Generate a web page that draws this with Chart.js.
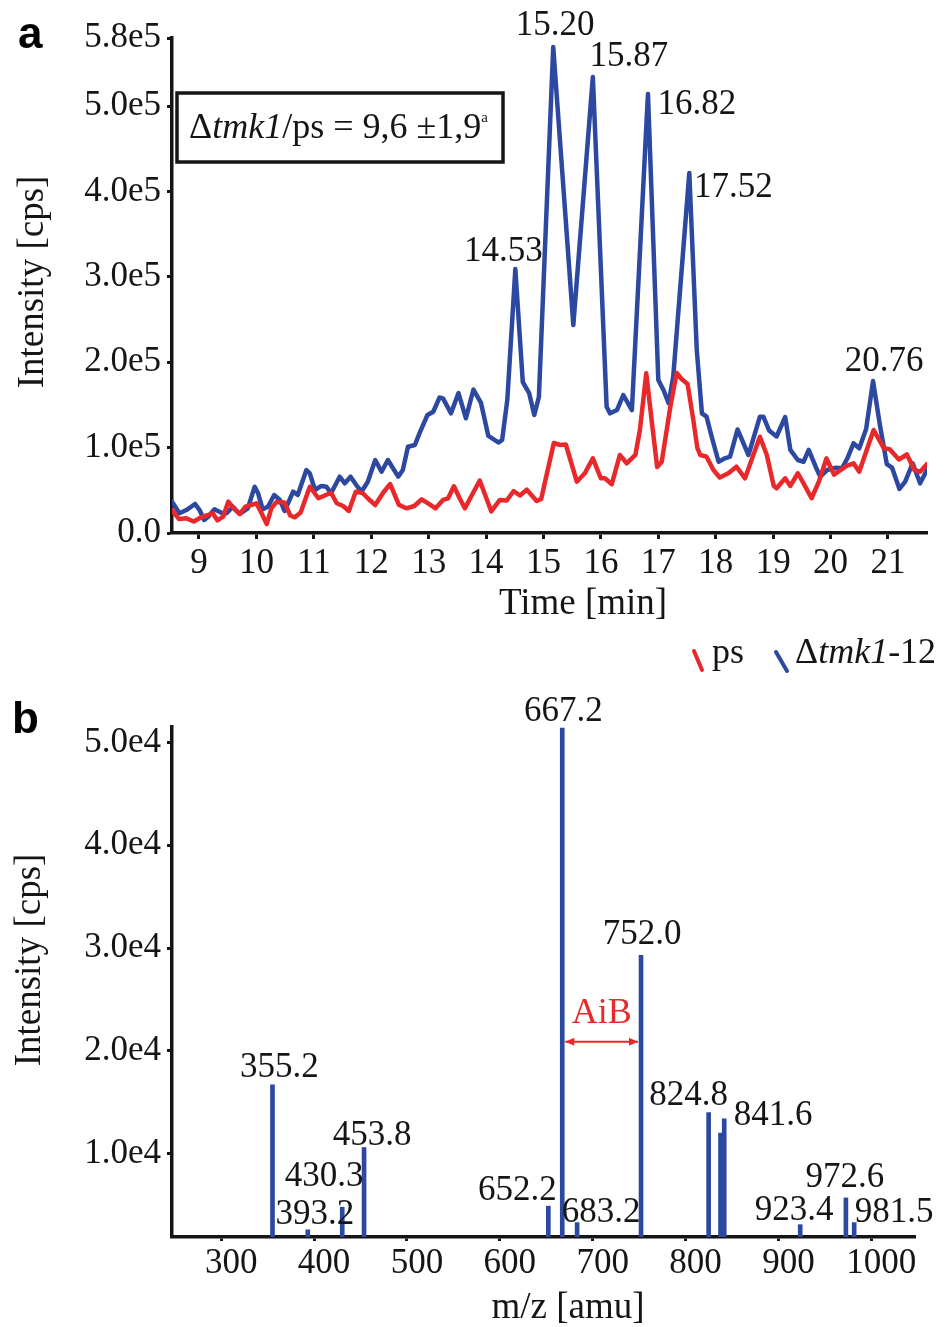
<!DOCTYPE html>
<html>
<head>
<meta charset="utf-8">
<script src="https://cdn.jsdelivr.net/npm/chart.js@4.4.1/dist/chart.umd.min.js"></script>
<style>
  html, body { margin: 0; padding: 0; background: #fff; }
  #page { position: relative; width: 952px; height: 1327px; overflow: hidden; }
  .panel { position: absolute; left: 0; width: 952px; }
  #wrapA { top: 0; height: 690px; }
  #wrapB { top: 690px; height: 637px; }
</style>
</head>
<body>
<div id="page">
  <div class="panel" id="wrapA"><canvas id="chartA" width="952" height="690"></canvas></div>
  <div class="panel" id="wrapB"><canvas id="chartB" width="952" height="637"></canvas></div>
</div>
<script>
// ---- panel a: chromatogram ----
const psTime = [8.53, 8.65, 8.78, 8.91, 9.03, 9.16, 9.24, 9.32, 9.42, 9.51, 9.62, 9.71, 9.81, 9.91, 10.00, 10.09, 10.18, 10.26, 10.35, 10.49, 10.59, 10.67, 10.77, 10.93, 11.08, 11.21, 11.30, 11.40, 11.51, 11.61, 11.73, 11.85, 11.94, 12.07, 12.21, 12.33, 12.48, 12.61, 12.75, 12.88, 12.99, 13.12, 13.25, 13.34, 13.44, 13.54, 13.63, 13.89, 14.09, 14.24, 14.36, 14.48, 14.59, 14.71, 14.88, 14.96, 15.18, 15.29, 15.39, 15.58, 15.72, 15.86, 16.00, 16.07, 16.19, 16.33, 16.45, 16.60, 16.68, 16.79, 16.89, 16.98, 17.06, 17.21, 17.32, 17.41, 17.51, 17.61, 17.68, 17.73, 17.84, 17.96, 18.07, 18.22, 18.36, 18.51, 18.77, 18.89, 19.01, 19.06, 19.21, 19.30, 19.43, 19.53, 19.67, 19.80, 19.93, 20.06, 20.28, 20.40, 20.50, 20.75, 20.93, 21.03, 21.19, 21.33, 21.46, 21.56, 21.68];
const psIntensity = [26900, 16400, 17200, 13500, 18200, 21100, 23100, 14900, 19100, 36700, 27800, 22300, 30800, 32800, 34800, 23100, 10500, 28900, 36300, 35700, 20500, 18400, 24000, 54200, 40700, 44500, 47200, 34800, 31600, 25800, 48400, 46900, 40700, 32800, 47500, 57400, 33200, 28900, 31600, 39500, 34800, 28900, 38700, 40700, 54700, 40700, 28900, 61500, 25400, 38700, 38100, 49200, 43900, 50700, 37500, 39800, 105500, 103100, 103700, 60100, 70000, 87500, 64100, 64100, 57200, 91400, 81700, 91400, 120700, 187100, 128500, 77300, 83500, 148000, 187500, 180100, 174600, 132400, 99600, 91400, 89400, 73800, 65000, 70000, 77700, 64100, 112800, 91400, 55300, 52400, 64100, 55100, 70000, 58200, 40700, 60900, 87500, 68400, 78700, 81700, 71800, 120700, 99200, 98100, 86100, 92000, 73800, 71800, 80800];

const tmkTime = [8.53, 8.66, 8.78, 8.93, 9.01, 9.09, 9.16, 9.27, 9.39, 9.48, 9.59, 9.71, 9.85, 9.97, 10.03, 10.11, 10.20, 10.31, 10.41, 10.49, 10.64, 10.72, 10.87, 10.93, 11.02, 11.13, 11.22, 11.30, 11.45, 11.54, 11.64, 11.74, 11.83, 11.94, 12.07, 12.18, 12.29, 12.47, 12.55, 12.64, 12.76, 12.84, 12.98, 13.08, 13.19, 13.25, 13.39, 13.52, 13.65, 13.78, 13.91, 14.04, 14.22, 14.28, 14.37, 14.51, 14.64, 14.75, 14.84, 14.92, 15.17, 15.52, 15.86, 16.10, 16.16, 16.28, 16.39, 16.54, 16.82, 17.00, 17.09, 17.18, 17.26, 17.54, 17.67, 17.76, 17.84, 17.93, 18.05, 18.16, 18.25, 18.38, 18.57, 18.77, 18.83, 18.93, 19.06, 19.21, 19.30, 19.43, 19.53, 19.62, 19.75, 19.82, 19.94, 20.08, 20.20, 20.30, 20.40, 20.50, 20.62, 20.74, 20.86, 20.98, 21.07, 21.20, 21.30, 21.43, 21.56, 21.69];
const tmkIntensity = [36700, 23100, 26900, 34000, 26900, 15200, 19100, 27800, 23800, 23100, 30800, 22300, 28900, 54200, 46500, 27800, 30800, 44500, 38700, 25800, 48400, 44500, 73800, 69900, 50400, 55100, 54200, 46500, 66000, 58200, 66000, 56200, 48400, 60100, 85500, 71800, 85500, 66000, 73800, 101100, 103100, 116800, 138300, 142100, 158800, 157800, 140200, 164000, 134400, 168100, 152900, 113700, 106000, 109000, 155800, 309300, 176900, 164000, 138300, 159300, 569400, 243700, 534300, 148000, 140200, 144100, 161700, 144100, 514400, 179300, 167600, 152000, 183100, 421800, 214400, 140200, 136300, 112800, 83500, 87500, 89400, 121300, 91400, 136300, 136300, 120100, 113100, 135900, 97300, 85500, 83500, 97300, 76200, 66000, 73800, 76400, 75800, 88500, 105100, 99200, 121900, 178100, 126500, 80800, 76700, 51600, 60100, 81700, 58200, 75200];

const peakTimes = [14.53, 15.20, 15.87, 16.82, 17.52, 20.76];
const peakLabels = ['14.53', '15.20', '15.87', '16.82', '17.52', '20.76'];
const timeTicks = [9, 10, 11, 12, 13, 14, 15, 16, 17, 18, 19, 20, 21];
const intensityTicksA = [0, 100000, 200000, 300000, 400000, 500000, 580000];
const intensityTickLabelsA = ['0.0', '1.0e5', '2.0e5', '3.0e5', '4.0e5', '5.0e5', '5.8e5'];

// ---- panel b: MS spectrum ----
const mzValues = [355.2, 393.2, 430.3, 453.8, 652.2, 667.2, 683.2, 752.0, 824.8, 837.6, 841.6, 923.4, 972.6, 981.5];
const mzIntensity = [16700, 2600, 4800, 10600, 4900, 51400, 3300, 29300, 14000, 12000, 13400, 3100, 5700, 3300];
const mzLabels = ['355.2', '393.2', '430.3', '453.8', '652.2', '667.2', '683.2', '752.0', '824.8', '', '841.6', '923.4', '972.6', '981.5'];
const mzTicks = [300, 400, 500, 600, 700, 800, 900, 1000];
const intensityTicksB = [10000, 20000, 30000, 40000, 50000];
const intensityTickLabelsB = ['1.0e4', '2.0e4', '3.0e4', '4.0e4', '5.0e4'];

const RED = '#e8282b', BLUE = '#2c48a0', INK = '#151515';
const serif = (s, style = '') => `${style} ${s}px "Liberation Serif", "Times New Roman", serif`.trim();

// label placement (pixel offsets from the mark they belong to)
const peakLabelOffsets = [[-12, -17], [2, -21], [36, -20], [49, 11], [44, 15], [11, -19]];
const mzLabelOffsets = [[7, -17], [7, -15], [-18, -30], [8, -12], [-31, -15], [1, -16], [24, -10], [1, -20], [-20, -17], [0, 0], [49, -3], [-6, -14], [-1, -20], [40, -10]];

function drawParts(ctx, parts, x, y) {
    let cx = x;
    parts.forEach(p => {
        ctx.font = p.font;
        ctx.fillText(p.text, cx, y + (p.dy || 0));
        cx += ctx.measureText(p.text).width;
    });
}

function axisStyle(tickLen) {
    return {
        grid: { display: true, drawOnChartArea: false, drawTicks: true, tickLength: tickLen, tickWidth: 3, tickColor: INK, color: INK, offset: false },
        border: { display: true, color: INK, width: 3.5 }
    };
}

const panelA = {
    id: 'panelA',
    afterDraw(chart) {
        const { ctx, scales: { x, y } } = chart;
        ctx.save();
        ctx.fillStyle = '#000';
        ctx.textBaseline = 'alphabetic';
        ctx.textAlign = 'left';
        ctx.font = 'bold 44px "Liberation Sans", Arial, sans-serif';
        ctx.fillText('a', 18, 48);

        // axis titles
        ctx.fillStyle = INK;
        ctx.font = serif(37);
        ctx.textAlign = 'center';
        ctx.textBaseline = 'middle';
        ctx.fillText('Time [min]', 583, 604);
        ctx.save();
        ctx.translate(33, 282);
        ctx.rotate(-Math.PI / 2);
        ctx.fillText('Intensity [cps]', 0, 0);
        ctx.restore();

        // ratio box
        ctx.strokeStyle = INK;
        ctx.lineWidth = 3.5;
        ctx.strokeRect(177, 93, 326, 69);
        ctx.textAlign = 'left';
        ctx.textBaseline = 'alphabetic';
        drawParts(ctx, [
            { text: '\u0394', font: serif(36) },
            { text: 'tmk1', font: serif(36, 'italic') },
            { text: '/ps = 9,6 \u00b11,9', font: serif(36) },
            { text: 'a', font: serif(15), dy: -16 }
        ], 189, 138);

        // peak labels, anchored on the blue trace maximum near each retention time
        ctx.font = serif(35);
        ctx.textAlign = 'center';
        ctx.textBaseline = 'middle';
        peakTimes.forEach((t, i) => {
            let best = -1;
            tmkTime.forEach((tt, j) => {
                if (Math.abs(tt - t) < 0.15 && (best < 0 || tmkIntensity[j] > tmkIntensity[best])) best = j;
            });
            const px = x.getPixelForValue(tmkTime[best]);
            const py = y.getPixelForValue(tmkIntensity[best]);
            ctx.fillText(peakLabels[i], px + peakLabelOffsets[i][0], py + peakLabelOffsets[i][1]);
        });

        // legend
        ctx.lineWidth = 4;
        ctx.lineCap = 'round';
        ctx.strokeStyle = RED;
        ctx.beginPath(); ctx.moveTo(694, 651); ctx.lineTo(702, 670); ctx.stroke();
        ctx.strokeStyle = BLUE;
        ctx.beginPath(); ctx.moveTo(776, 652); ctx.lineTo(787, 671); ctx.stroke();
        ctx.fillStyle = INK;
        ctx.textAlign = 'left';
        ctx.textBaseline = 'alphabetic';
        drawParts(ctx, [{ text: 'ps', font: serif(36) }], 712, 663);
        drawParts(ctx, [
            { text: '\u0394', font: serif(36) },
            { text: 'tmk1', font: serif(36, 'italic') },
            { text: '-12', font: serif(36) }
        ], 795, 663);
        ctx.restore();
    }
};

const panelB = {
    id: 'panelB',
    afterDraw(chart) {
        const { ctx, scales: { x, y } } = chart;
        ctx.save();
        ctx.fillStyle = '#000';
        ctx.textAlign = 'left';
        ctx.textBaseline = 'alphabetic';
        ctx.font = 'bold 44px "Liberation Sans", Arial, sans-serif';
        ctx.fillText('b', 12, 43);

        ctx.fillStyle = INK;
        ctx.font = serif(37);
        ctx.textAlign = 'center';
        ctx.textBaseline = 'middle';
        ctx.fillText('m/z [amu]', 568, 618);
        ctx.save();
        ctx.translate(30, 270);
        ctx.rotate(-Math.PI / 2);
        ctx.fillText('Intensity [cps]', 0, 0);
        ctx.restore();

        // bar labels
        ctx.font = serif(35);
        mzValues.forEach((m, i) => {
            if (!mzLabels[i]) return;
            const px = x.getPixelForValue(m), py = y.getPixelForValue(mzIntensity[i]);
            ctx.fillText(mzLabels[i], px + mzLabelOffsets[i][0], py + mzLabelOffsets[i][1]);
        });

        // AiB mass difference between 667.2 and 752.0
        const x1 = x.getPixelForValue(667.2) + 3, x2 = x.getPixelForValue(752.0) - 3;
        const ya = y.getPixelForValue(20900);
        ctx.strokeStyle = RED;
        ctx.fillStyle = RED;
        ctx.lineWidth = 2;
        ctx.beginPath(); ctx.moveTo(x1, ya); ctx.lineTo(x2, ya); ctx.stroke();
        [[x1, 1], [x2, -1]].forEach(([ax, d]) => {
            ctx.beginPath();
            ctx.moveTo(ax, ya);
            ctx.lineTo(ax + 9 * d, ya - 4);
            ctx.lineTo(ax + 9 * d, ya + 4);
            ctx.closePath();
            ctx.fill();
        });
        ctx.font = serif(36);
        ctx.fillText('AiB', (x1 + x2) / 2, y.getPixelForValue(23600));
        ctx.restore();
    }
};

const tickFont = { family: '"Liberation Serif", "Times New Roman", serif', size: 35 };

new Chart(document.getElementById('chartA'), {
    type: 'line',
    data: {
        datasets: [
            { label: 'ps', data: psTime.map((t, i) => ({ x: t, y: psIntensity[i] })), borderColor: RED, borderWidth: 4.5, pointRadius: 0, tension: 0, borderJoinStyle: 'round', borderCapStyle: 'round' },
            { label: '\u0394tmk1-12', data: tmkTime.map((t, i) => ({ x: t, y: tmkIntensity[i] })), borderColor: BLUE, borderWidth: 4.5, pointRadius: 0, tension: 0, borderJoinStyle: 'round', borderCapStyle: 'round' }
        ]
    },
    options: {
        responsive: false, animation: false, events: [],
        layout: { padding: { top: 38, right: 25, left: 0, bottom: 0 } },
        plugins: { legend: { display: false }, tooltip: { enabled: false } },
        scales: {
            x: {
                type: 'linear', min: 8.53, max: 21.68,
                afterBuildTicks: s => { s.ticks = timeTicks.map(v => ({ value: v })); },
                afterFit: s => { s.height = 157; },
                ticks: { font: tickFont, color: INK, padding: 4, maxRotation: 0, autoSkip: false, callback: v => String(v) },
                ...axisStyle(6)
            },
            y: {
                min: 0, max: 580000,
                afterBuildTicks: s => { s.ticks = intensityTicksA.map(v => ({ value: v })); },
                afterFit: s => { s.width = 172; },
                ticks: { font: tickFont, color: INK, padding: 6, autoSkip: false, callback: (v, i) => intensityTickLabelsA[i] },
                ...axisStyle(5)
            }
        }
    },
    plugins: [panelA]
});

new Chart(document.getElementById('chartB'), {
    type: 'bar',
    data: {
        datasets: [{ label: 'MS', data: mzValues.map((m, i) => ({ x: m, y: mzIntensity[i] })), backgroundColor: BLUE, barThickness: 4, borderWidth: 0 }]
    },
    options: {
        responsive: false, animation: false, events: [],
        layout: { padding: { top: 37, right: 37, left: 0, bottom: 0 } },
        plugins: { legend: { display: false }, tooltip: { enabled: false } },
        scales: {
            x: {
                type: 'linear', min: 247, max: 1047, offset: false,
                afterBuildTicks: s => { s.ticks = mzTicks.map(v => ({ value: v })); },
                afterFit: s => { s.height = 90; },
                ticks: { font: tickFont, color: INK, padding: 2, labelOffset: 10, maxRotation: 0, autoSkip: false, callback: v => String(v) },
                ...axisStyle(4)
            },
            y: {
                min: 1900, max: 51500,
                afterBuildTicks: s => { s.ticks = intensityTicksB.map(v => ({ value: v })); },
                afterFit: s => { s.width = 172; },
                ticks: { font: tickFont, color: INK, padding: 6, autoSkip: false, callback: (v, i) => intensityTickLabelsB[i] },
                ...axisStyle(5)
            }
        }
    },
    plugins: [panelB]
});
</script>
</body>
</html>
